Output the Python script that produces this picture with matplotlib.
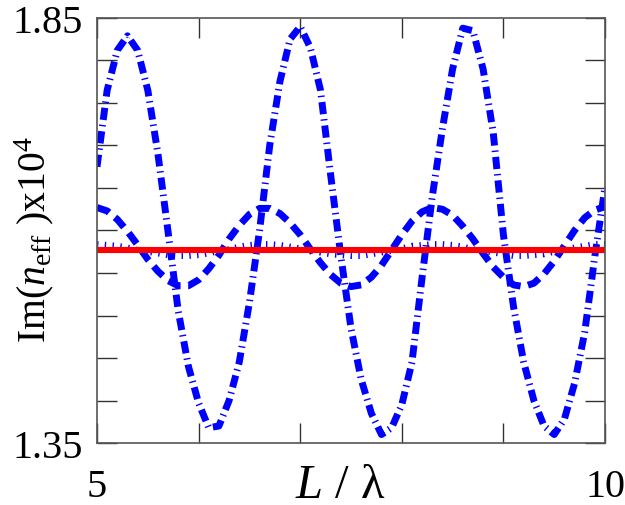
import matplotlib
matplotlib.use("Agg")
import matplotlib.pyplot as plt
from matplotlib.ticker import FixedLocator

plt.rcParams['font.family'] = ['Liberation Serif', 'DejaVu Serif']
plt.rcParams['mathtext.fontset'] = 'custom'
plt.rcParams['mathtext.rm'] = 'Liberation Serif'
plt.rcParams['mathtext.it'] = 'Liberation Serif:italic'
plt.rcParams['lines.scale_dashes'] = False

# ---- data ----
L_values = [5.0, 5.1, 5.2, 5.3, 5.4, 5.5, 5.6, 5.7, 5.8, 5.9,
            6.0, 6.1, 6.2, 6.3, 6.4, 6.5, 6.6, 6.7, 6.8, 6.9,
            7.0, 7.1, 7.2, 7.3, 7.4, 7.5, 7.6, 7.7, 7.8, 7.9,
            8.0, 8.1, 8.2, 8.3, 8.4, 8.5, 8.6, 8.7, 8.8, 8.9,
            9.0, 9.1, 9.2, 9.3, 9.4, 9.5, 9.6, 9.7, 9.8, 9.9, 10.0]

dashdot_values = [1.675, 1.765, 1.812, 1.829, 1.812, 1.765, 1.690, 1.598, 1.505, 1.440,
                  1.397, 1.368, 1.370, 1.400, 1.445, 1.515, 1.600, 1.700, 1.775, 1.825,
                  1.840, 1.815, 1.765, 1.665, 1.570, 1.485, 1.425, 1.385, 1.360, 1.368,
                  1.395, 1.445, 1.545, 1.640, 1.720, 1.790, 1.838, 1.835, 1.790, 1.715,
                  1.595, 1.510, 1.445, 1.400, 1.370, 1.360, 1.378, 1.420, 1.480, 1.570, 1.651]

dashed_values = [1.627, 1.623, 1.613, 1.599, 1.583, 1.566, 1.552, 1.541, 1.535, 1.535,
                 1.542, 1.555, 1.571, 1.590, 1.606, 1.619, 1.626, 1.626, 1.620, 1.609,
                 1.595, 1.578, 1.562, 1.548, 1.538, 1.534, 1.536, 1.545, 1.559, 1.577,
                 1.595, 1.611, 1.622, 1.627, 1.625, 1.618, 1.605, 1.590, 1.573, 1.557,
                 1.545, 1.536, 1.534, 1.538, 1.549, 1.564, 1.582, 1.600, 1.615, 1.624, 1.628]

dotted_values = [1.584, 1.583, 1.582, 1.580, 1.577, 1.575, 1.573, 1.571, 1.570, 1.570,
                 1.571, 1.573, 1.576, 1.578, 1.581, 1.583, 1.584, 1.584, 1.583, 1.581,
                 1.579, 1.577, 1.574, 1.572, 1.571, 1.570, 1.570, 1.572, 1.574, 1.576,
                 1.579, 1.582, 1.583, 1.584, 1.584, 1.583, 1.581, 1.578, 1.576, 1.574,
                 1.572, 1.570, 1.570, 1.571, 1.572, 1.575, 1.577, 1.580, 1.582, 1.584, 1.584]

red_L = [5.0, 10.0]
red_values = [1.577, 1.577]

x_ticks = [5, 6, 7, 8, 9, 10]
x_tick_labels = ['5', '', '', '', '', '10']
y_ticks = [1.35, 1.40, 1.45, 1.50, 1.55, 1.60, 1.65, 1.70, 1.75, 1.80, 1.85]
y_tick_labels = ['1.35', '', '', '', '', '', '', '', '', '', '1.85']

# ---- figure ----
fig = plt.figure(figsize=(6.25, 5.06), dpi=100)
ax = fig.add_axes([0.1552, 0.1225, 0.8128, 0.84])

blue = '#0000ff'
ax.plot(L_values, dotted_values, color=blue, lw=4.3, dash_capstyle='butt',
        linestyle=(0, (1.0, 4.6)))
ax.plot(L_values, dashed_values, color=blue, lw=5.0, dash_capstyle='butt',
        linestyle=(0, (9.5, 5.5)))
ax.plot(L_values, dashdot_values, color=blue, lw=5.0, dash_capstyle='butt',
        linestyle=(0, (8.8, 3.6, 1.0, 3.6)))
ax.plot(red_L, red_values, color='#ff0000', lw=4.4, solid_capstyle='butt')

ax.set_xlim(5, 10)
ax.set_ylim(1.35, 1.85)
ax.xaxis.set_major_locator(FixedLocator(x_ticks))
ax.set_xticklabels(x_tick_labels)
ax.yaxis.set_major_locator(FixedLocator(y_ticks))
ax.set_yticklabels(y_tick_labels)

ax.tick_params(axis='both', which='major', direction='in', length=14.5, width=1.0,
               color='#333333', labelsize=29, top=True, right=True)
ax.tick_params(axis='x', pad=18)
ax.tick_params(axis='y', pad=10)
for sp in ax.spines.values():
    sp.set_color('#555555')
    sp.set_linewidth(1.2)

ax.set_xlabel(r'$L$ / λ', fontsize=35)
ax.xaxis.set_label_coords(0.48, -0.046)
ax.set_ylabel(r'Im($n_{\rm eff}$ )x10$^4$', fontsize=28.5)
ax.yaxis.set_label_coords(-0.08, 0.482)

fig.savefig('out.png', dpi=100)
